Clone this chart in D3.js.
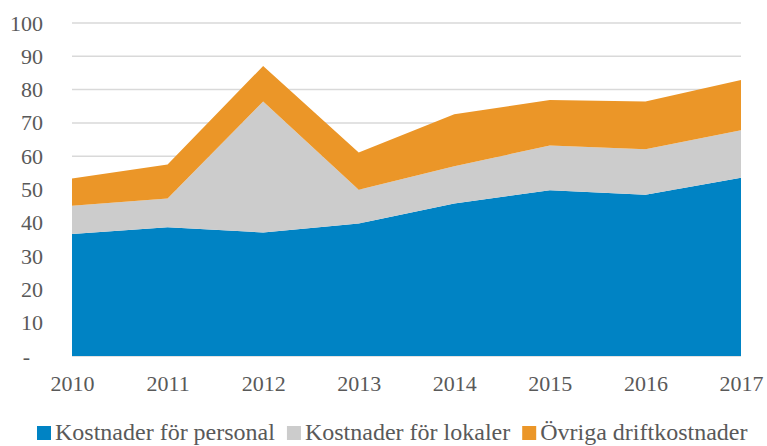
<!DOCTYPE html>
<html>
<head>
<meta charset="utf-8">
<script src="https://cdn.jsdelivr.net/npm/d3@7"></script>
<style>
  body { margin: 0; background: #fff; }
</style>
</head>
<body>
<div id="chart"></div>
<script>
// Years on the x axis
const years = [2010, 2011, 2012, 2013, 2014, 2015, 2016, 2017];

// Stacked series values
const personal = [36.6, 38.7, 37.1, 39.8, 45.8, 49.8, 48.4, 53.5];
const lokaler = [8.5, 8.6, 39.3, 10.1, 11.2, 13.4, 13.7, 14.3];
const ovriga = [8.2, 10.2, 10.7, 11.2, 15.6, 13.7, 14.3, 15.1];

const seriesNames = ['Kostnader för personal', 'Kostnader för lokaler', 'Övriga driftkostnader'];
const seriesKeys = ['personal', 'lokaler', 'ovriga'];
const colors = ['#0083c4', '#cccccc', '#eb9628'];
const yTicks = [0, 10, 20, 30, 40, 50, 60, 70, 80, 90, 100];

const W = 767, H = 446;
const margin = { top: 23, right: 26, bottom: 90, left: 72 };
const FONT = "'Liberation Serif', 'DejaVu Serif', serif";

// Build rows for the stack
const rows = years.map((y, i) => ({ year: y, personal: personal[i], lokaler: lokaler[i], ovriga: ovriga[i] }));
const stacked = d3.stack().keys(seriesKeys)(rows);

const svg = d3.select('#chart').append('svg')
  .attr('width', W)
  .attr('height', H);

const x = d3.scaleLinear()
  .domain([years[0], years[years.length - 1]])
  .range([margin.left, W - margin.right]);

const y = d3.scaleLinear()
  .domain([0, 100])
  .range([H - margin.bottom, margin.top]);

// Gridlines
svg.append('g')
  .selectAll('line')
  .data(yTicks)
  .enter()
  .append('line')
  .attr('x1', margin.left)
  .attr('x2', W - margin.right)
  .attr('y1', d => y(d))
  .attr('y2', d => y(d))
  .attr('stroke', '#d9d9d9')
  .attr('stroke-width', 1.5);

// Areas
const area = d3.area()
  .x(d => x(d.data.year))
  .y0(d => y(d[0]))
  .y1(d => y(d[1]));

svg.append('g')
  .selectAll('path')
  .data(stacked)
  .enter()
  .append('path')
  .attr('d', area)
  .attr('fill', (d, i) => colors[i]);

// Y axis
const yAxis = svg.append('g')
  .attr('transform', `translate(${margin.left - 26},0)`)
  .call(d3.axisLeft(y).tickValues(yTicks).tickSize(0).tickFormat(d => d === 0 ? '-' : d));
yAxis.select('.domain').remove();
yAxis.attr('font-family', null).attr('font-size', null);
yAxis.selectAll('text')
  .style('font-family', FONT)
  .style('font-size', '22px')
  .style('fill', '#595959')
  .attr('dx', d => d === 0 ? -13 : 0);

// X axis
const xAxis = svg.append('g')
  .attr('transform', `translate(0,${H - margin.bottom + 16})`)
  .call(d3.axisBottom(x).tickValues(years).tickSize(0).tickFormat(d3.format('d')));
xAxis.select('.domain').remove();
xAxis.attr('font-family', null).attr('font-size', null);
xAxis.selectAll('text')
  .style('font-family', FONT)
  .style('font-size', '22px')
  .style('fill', '#595959');

// Legend
const legend = svg.append('g').attr('transform', `translate(37,${H - 6})`);
let lx = 0;
seriesNames.forEach((name, i) => {
  const g = legend.append('g').attr('transform', `translate(${lx},0)`);
  g.append('rect')
    .attr('x', 0)
    .attr('y', -14)
    .attr('width', 14)
    .attr('height', 14)
    .attr('fill', colors[i]);
  const t = g.append('text')
    .attr('x', 18)
    .attr('y', 0)
    .style('font-family', FONT)
    .style('font-size', '24px')
    .style('fill', '#595959')
    .text(name);
  lx += 18 + t.node().getComputedTextLength() + 12;
});
</script>
</body>
</html>
